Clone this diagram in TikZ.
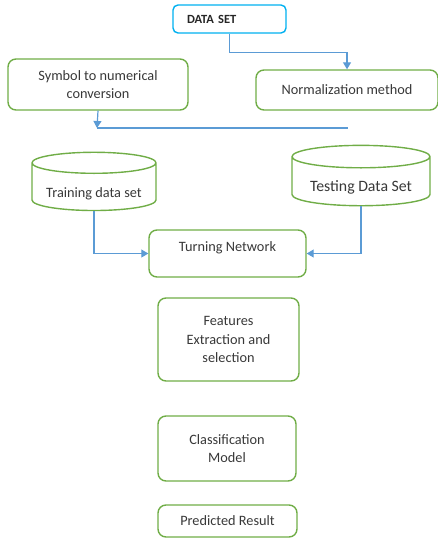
\documentclass[tikz,border=0pt]{standalone}
\usepackage{fontspec}
\setmainfont{Carlito}
\usepackage{tikz}
\usetikzlibrary{positioning, calc, arrows.meta, shapes.geometric}

\begin{document}
\begin{tikzpicture}[x=1pt, y=-1pt,
    box/.style={draw=flowgreen, line width=1.4pt, rounded corners=8pt, align=center,
        text=black!78, font=\fontsize{14.3}{18.5}\selectfont, inner sep=0pt},
    store/.style={cylinder, shape border rotate=90, aspect=0.22, draw=flowgreen,
        line width=1.4pt, text=black!78, font=\fontsize{14.3}{18.5}\selectfont, inner sep=0pt,
        text height=23pt, text depth=3pt},
    flow/.style={draw=flowblue, line width=1.2pt, -{Triangle[width=8pt,length=7pt]}}]
    % Colours
    \definecolor{flowgreen}{RGB}{112, 173, 71}
    \definecolor{flowblue}{RGB}{91, 155, 213}
    \definecolor{headblue}{RGB}{0, 176, 240}

    \useasboundingbox (0,0) rectangle (438,538);

    % Top part: data set and preprocessing
    \node[draw=headblue, line width=1.4pt, rounded corners=5pt, minimum width=113pt,
        minimum height=28pt, text width=85pt, align=left, inner xsep=14pt, inner ysep=0pt,
        text=black!85, font=\bfseries\fontsize{12.5}{14}\selectfont] (data) at (229.5,19) {DATA SET};
    \node[box, minimum width=180pt, minimum height=51pt] (symb) at (98,84.5) {Symbol to numerical\\conversion};
    \node[box, minimum width=182pt, minimum height=40pt] (norm) at (347,90) {Normalization method};
    \coordinate (joinL) at (97,128);
    \coordinate (joinR) at (348,128);

    % Data sets
    \node[store, minimum width=124pt, minimum height=56pt] (train) at (94,187) {Training data set};
    \node[store, minimum width=138pt, minimum height=57pt, font=\fontsize{15.8}{18.5}\selectfont] (test) at (361,181.5) {Testing Data Set};
    \node[box, minimum width=157pt, minimum height=47pt, text depth=14pt] (turn) at (227.5,253.5) {Turning Network};

    % Lower steps
    \node[box, minimum width=141pt, minimum height=83pt] (feat) at (228.5,339.5) {Features\\Extraction and\\selection};
    \node[box, minimum width=138pt, minimum height=65pt] (clas) at (227,448.5) {Classification\\Model};
    \node[box, minimum width=139pt, minimum height=32pt] (pred) at (227.5,521) {Predicted Result};

    % Connectors
    \draw[flow] (data.south) -- ++(0,19) -| (norm.north);
    \draw[flow] (symb.south) -- (joinL);
    \draw[draw=flowblue, line width=1.2pt] (joinL) -- (joinR);
    \draw[flow] (train.south) |- (turn.west);
    \draw[flow] (test.south) |- (turn.east);
\end{tikzpicture}
\end{document}
